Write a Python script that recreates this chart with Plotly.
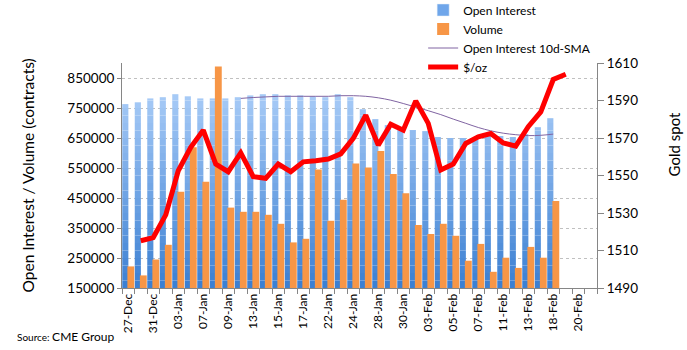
import plotly.graph_objects as go

dates = ["27-Dec","30-Dec","31-Dec","02-Jan","03-Jan","06-Jan","07-Jan","08-Jan","09-Jan","10-Jan",
         "13-Jan","14-Jan","15-Jan","16-Jan","17-Jan","21-Jan","22-Jan","23-Jan","24-Jan","27-Jan",
         "28-Jan","29-Jan","30-Jan","31-Jan","03-Feb","04-Feb","05-Feb","06-Feb","07-Feb","10-Feb",
         "11-Feb","12-Feb","13-Feb","14-Feb","18-Feb","19-Feb","20-Feb","21-Feb"]

open_interest = [763000, 769000, 782000, 786000, 796000, 789000, 782000, 782000, 782000, 786000,
                 792000, 796000, 796000, 792000, 792000, 789000, 786000, 796000, 786000, 746000,
                 713000, 693000, 682000, 676000, 673000, 653000, 650000, 650000, 650000, 656000,
                 656000, 653000, 663000, 686000, 716000, None, None, None]

volume = [222000, 192000, 245000, 294000, 471000, 619000, 504000, 888000, 418000, 404000,
          404000, 394000, 364000, 302000, 314000, 545000, 374000, 444000, 565000, 552000,
          607000, 530000, 466000, 360000, 330000, 364000, 324000, 241000, 297000, 204000,
          251000, 217000, 287000, 251000, 440000, None, None, None]

oi_sma10 = [None, None, None, None, None, None, None, None, None, 782000,
            785000, 787000, 789000, 789000, 789000, 789000, 789000, 791000, 791000, 789000,
            784000, 776000, 765000, 753000, 741000, 728000, 713000, 699000, 685000, 674000,
            666000, 661000, 658000, 659000, 663000, None, None, None]

gold = [None, 1515.2, 1516.9, 1529.0, 1552.5, 1565.0, 1574.2, 1556.1, 1552.0, 1562.1,
        1549.4, 1548.5, 1556.1, 1552.0, 1557.3, 1557.9, 1558.8, 1561.5, 1569.8, 1582.2,
        1566.2, 1577.4, 1574.2, 1589.8, 1577.8, 1552.9, 1556.1, 1567.1, 1570.6, 1572.4,
        1567.4, 1565.7, 1576.0, 1583.9, 1601.2, 1604.0, None, None]

left_ticks = [150000, 250000, 350000, 450000, 550000, 650000, 750000, 850000]
right_ticks = [1490, 1510, 1530, 1550, 1570, 1590, 1610]

FONT = "Lato"
xs = list(range(len(dates)))

fig = go.Figure()

# Open interest bars drawn as vertical colour bands (gradient look)
def lerp(c1, c2, t):
    return "#%02x%02x%02x" % tuple(int(round(a + (b - a) * t)) for a, b in zip(c1, c2))

dark = (0x3a, 0x7f, 0xd2)
light = (0xa8, 0xcb, 0xf7)
step = 25000
lo = 150000
edges = list(range(lo, 900000 + step, step))
for k in range(len(edges) - 1):
    L, U = edges[k], edges[k + 1]
    t = min(1.0, max(0.0, ((L + U) / 2 - lo) / 650000))
    ys = [None if v is None else max(0, min(v, U) - L) for v in open_interest]
    fig.add_trace(go.Bar(x=xs, y=ys, base=L, offset=-0.48, width=0.49,
                         marker=dict(color=lerp(dark, light, t), line=dict(width=0)),
                         showlegend=False, hoverinfo="skip", yaxis="y"))

fig.add_trace(go.Bar(x=[None], y=[None], name="Open Interest", marker_color="#6fa6ea",
                     legendrank=1))
fig.add_trace(go.Bar(x=xs, y=volume, name="Volume", offset=-0.07, width=0.55,
                     marker=dict(color="#f79646", line=dict(width=0)), legendrank=2))
fig.add_trace(go.Scatter(x=xs, y=oi_sma10, name="Open Interest 10d-SMA", mode="lines",
                         line=dict(color="#8064a2", width=1, shape="spline"), legendrank=3))
fig.add_trace(go.Scatter(x=xs, y=gold, name="$/oz", mode="lines", yaxis="y2",
                         line=dict(color="#ff0000", width=5), legendrank=4))

axis_gray = "#868686"
fig.update_layout(
    width=687, height=350,
    margin=dict(l=122, r=90, t=63, b=62, autoexpand=False),
    paper_bgcolor="white", plot_bgcolor="white",
    barmode="overlay",
    font=dict(family=FONT, size=12, color="#000000"),
    showlegend=True,
    legend=dict(x=0.634, xanchor="left", y=1.30, yanchor="top",
                font=dict(family=FONT, size=12), tracegroupgap=0,
                bgcolor="rgba(0,0,0,0)", traceorder="normal"),
    xaxis=dict(range=[-0.5, len(dates) - 0.5],
               tickmode="array", tickvals=xs[::2], ticktext=dates[::2],
               tickangle=-90, ticks="", showgrid=False, zeroline=False,
               showline=True, linecolor=axis_gray, linewidth=1,
               tickfont=dict(family=FONT, size=12),
               minor=dict(tickmode="array", tickvals=[i - 0.5 for i in range(len(dates) + 1)],
                          ticks="outside", ticklen=5, tickcolor=axis_gray, showgrid=False)),
    yaxis=dict(range=[150000, 900000], tickmode="array", tickvals=left_ticks,
               ticktext=[str(v) for v in left_ticks],
               ticks="outside", ticklen=4, tickcolor=axis_gray,
               showline=True, linecolor=axis_gray, linewidth=1,
               showgrid=True, gridcolor="#c0c0c0", griddash="3px,3px", gridwidth=1,
               zeroline=False, tickfont=dict(family=FONT, size=13.5)),
    yaxis2=dict(range=[1490, 1610], overlaying="y", side="right",
                tickmode="array", tickvals=right_ticks,
                ticks="outside", ticklen=6, tickcolor=axis_gray,
                showline=True, linecolor=axis_gray, linewidth=1,
                showgrid=False, zeroline=False, tickfont=dict(family=FONT, size=13.5)),
    annotations=[
        dict(text="Open Interest / Volume (contracts)", xref="paper", yref="paper",
             x=-0.198, y=0.5, xanchor="center", yanchor="middle", textangle=-90,
             showarrow=False, font=dict(family=FONT, size=15.5)),
        dict(text="Gold spot", xref="paper", yref="paper",
             x=1.163, y=0.64, xanchor="center", yanchor="middle", textangle=-90,
             showarrow=False, font=dict(family=FONT, size=15)),
        dict(text="Source: <span style='font-size:12px'>CME Group</span>", xref="paper", yref="paper",
             x=-0.2254, y=-0.216, xanchor="left", yanchor="middle",
             showarrow=False, font=dict(family=FONT, size=10)),
    ],
)

fig.write_html("out.html")
